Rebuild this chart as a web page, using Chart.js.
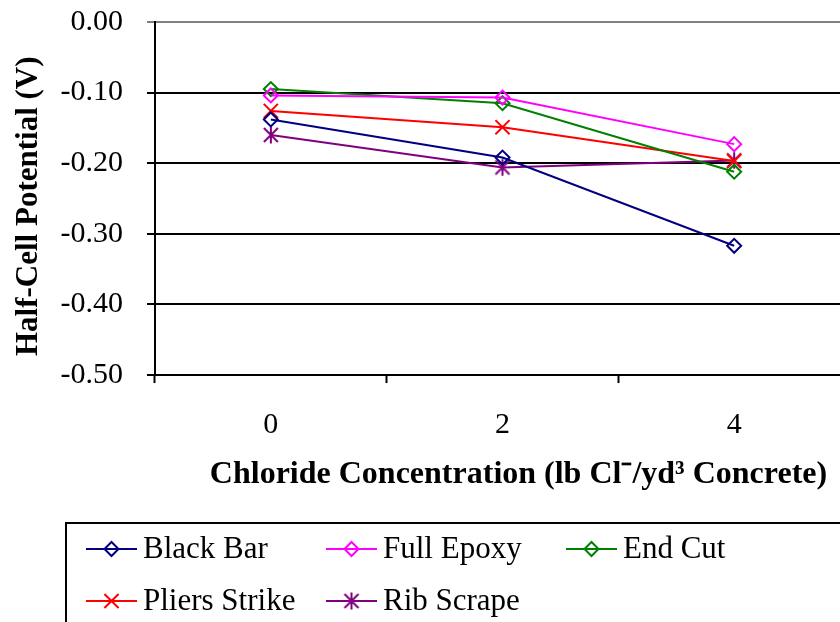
<!DOCTYPE html>
<html>
<head>
<meta charset="utf-8">
<script src="https://cdn.jsdelivr.net/npm/chart.js@4.4.0/dist/chart.umd.min.js"></script>
<style>
  html, body { margin: 0; padding: 0; background: #fff; overflow: hidden; }
  #wrap { position: absolute; left: 0; top: 0; width: 862px; height: 622px; }
</style>
</head>
<body>
<div id="wrap"><canvas id="myChart" width="862" height="622"></canvas></div>
<script>
const concentrations = ['0', '2', '4']

const blackBar = [-0.138, -0.192, -0.317]
const fullEpoxy = [-0.104, -0.107, -0.173]
const endCut = [-0.095, -0.115, -0.212]
const pliersStrike = [-0.126, -0.149, -0.197]
const ribScrape = [-0.160, -0.206, -0.196]

const seriesNames = ['Black Bar', 'Full Epoxy', 'End Cut', 'Pliers Strike', 'Rib Scrape']

const serif = '"Liberation Serif", "Times New Roman", serif'

// excel style asterisk marker (x plus vertical bar)
function makeAsterisk(color) {
    const c = document.createElement('canvas')
    c.width = 18
    c.height = 18
    const g = c.getContext('2d')
    g.strokeStyle = color
    g.lineWidth = 2
    g.beginPath()
    g.moveTo(2, 2); g.lineTo(16, 16)
    g.moveTo(16, 2); g.lineTo(2, 16)
    g.moveTo(9, 0.5); g.lineTo(9, 17.5)
    g.stroke()
    return c
}

function series(label, data, color, style, radius) {
    return {
        label: label,
        data: data,
        borderColor: color,
        backgroundColor: color,
        borderWidth: 2,
        pointStyle: style,
        pointRadius: radius,
        pointBorderColor: color,
        pointBackgroundColor: 'rgba(0,0,0,0)',
        pointBorderWidth: 2,
        tension: 0,
        fill: false
    }
}

const boxedLegend = {
    id: 'boxedLegend',
    afterDraw(chart) {
        const ctx = chart.ctx
        ctx.save()
        ctx.strokeStyle = '#000'
        ctx.lineWidth = 2
        ctx.strokeRect(66, 523, 900, 200)
        ctx.font = '31px ' + serif
        ctx.textBaseline = 'middle'
        ctx.textAlign = 'left'
        chart.data.datasets.forEach((ds, i) => {
            const x0 = 86 + (i % 3) * 240
            const y = 549 + Math.floor(i / 3) * 52
            ctx.strokeStyle = ds.borderColor
            ctx.lineWidth = 2
            ctx.beginPath()
            ctx.moveTo(x0, y)
            ctx.lineTo(x0 + 51, y)
            ctx.stroke()
            ctx.fillStyle = 'rgba(0,0,0,0)'
            Chart.helpers.drawPoint(ctx, {
                pointStyle: ds.pointStyle,
                radius: ds.pointRadius,
                rotation: 0,
                borderWidth: 2
            }, x0 + 25.5, y)
            ctx.fillStyle = '#000'
            ctx.fillText(ds.label, x0 + 57, y + 1)
        })
        ctx.restore()
    }
}

const ctx = document.getElementById('myChart')
new Chart(ctx, {
    type: 'line',
    data: {
        labels: concentrations,
        datasets: [
            series(seriesNames[0], blackBar, '#000080', 'rectRot', 7),
            series(seriesNames[1], fullEpoxy, '#ff00ff', 'rectRot', 7),
            series(seriesNames[2], endCut, '#008000', 'rectRot', 7),
            series(seriesNames[3], pliersStrike, '#ff0000', 'crossRot', 10),
            series(seriesNames[4], ribScrape, '#800080', makeAsterisk('#800080'), 9)
        ]
    },
    options: {
        responsive: false,
        animation: false,
        events: [],
        layout: {
            padding: { left: 0, top: 22, right: 11, bottom: 127 }
        },
        plugins: {
            legend: { display: false },
            tooltip: { enabled: false }
        },
        scales: {
            x: {
                offset: true,
                afterFit: (s) => { s.height = 120 },
                grid: {
                    offset: true,
                    drawOnChartArea: false,
                    drawTicks: true,
                    tickLength: 8,
                    tickWidth: 2,
                    tickColor: '#000'
                },
                border: { display: true, color: '#000', width: 2 },
                ticks: {
                    color: '#000',
                    padding: 24,
                    maxRotation: 0,
                    font: { family: serif, size: 30 }
                },
                title: {
                    display: true,
                    text: '\u00A0\u00A0\u00A0\u00A0Chloride Concentration (lb Cl\u207B/yd\u00B3 Concrete)',
                    color: '#000',
                    padding: { top: 0, bottom: 1 },
                    font: { family: serif, size: 32, weight: 'bold' }
                }
            },
            y: {
                min: -0.5,
                max: 0,
                afterFit: (s) => {
                    s.width = 155
                    s.paddingTop = 0
                    s.paddingBottom = 0
                },
                grid: {
                    color: (c) => (c.tick && c.tick.value === 0 ? '#808080' : '#000'),
                    lineWidth: 2,
                    tickLength: 8,
                    drawTicks: true
                },
                border: { display: true, color: '#000', width: 2 },
                ticks: {
                    stepSize: 0.1,
                    color: '#000',
                    padding: 24,
                    font: { family: serif, size: 30 },
                    callback: (v) => Number(v).toFixed(2)
                },
                title: {
                    display: true,
                    text: 'Half-Cell Potential (V)\u00A0\u00A0',
                    color: '#000',
                    padding: { top: 10, bottom: 0 },
                    font: { family: serif, size: 31, weight: 'bold' }
                }
            }
        }
    },
    plugins: [boxedLegend]
})
</script>
</body>
</html>
